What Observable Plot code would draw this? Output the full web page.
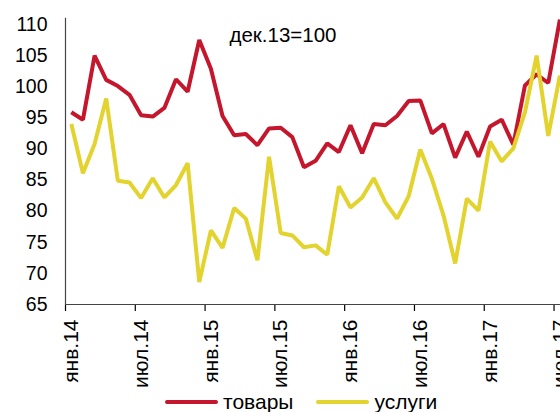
<!DOCTYPE html>
<html><head><meta charset="utf-8">
<script src="https://cdn.jsdelivr.net/npm/d3@7"></script>
<script src="https://cdn.jsdelivr.net/npm/@observablehq/plot@0.6"></script>
<style>
html,body{margin:0;padding:0;background:#fff;overflow:hidden;width:560px;height:412px}
#wrap{position:relative;width:560px;height:412px;overflow:hidden;font-family:"Liberation Sans",Arial,sans-serif}
#chart svg{max-width:none !important;width:580px;height:392px}
#legend{position:absolute;left:165px;top:391px;display:flex;align-items:center;font-size:21px;line-height:22px;color:#000;white-space:nowrap}
.item{display:flex;align-items:center;margin-right:23px}
.sw{display:inline-block;width:53px;height:4px;border-radius:2px;margin-right:5px}
</style></head><body>
<div id="wrap"><div id="chart"></div><div id="legend"></div></div>
<script>
// Monthly index, Jan 2014 .. Jul 2017 (43 months)
const goods = [95.9, 94.7, 105.0, 101.1, 100.1, 98.7, 95.4, 95.2, 96.6, 101.2, 99.2, 107.5,
  102.9, 95.3, 92.2, 92.4, 90.6, 93.3, 93.4, 91.9, 87.05, 88.1, 90.9, 89.5,
  93.8, 89.3, 94.0, 93.8, 95.3, 97.7, 97.8, 92.5, 94.0, 88.6, 92.8, 88.75,
  93.6, 94.7, 90.7, 100.2, 102.0, 100.6, 110.8];
const services = [94.0, 86.1, 90.8, 98.1, 84.9, 84.6, 82.1, 85.3, 82.2, 84.2, 87.7, 68.6,
  76.9, 74.1, 80.5, 78.8, 72.1, 88.75, 76.5, 76.1, 74.2, 74.5, 73.0, 84.0,
  80.6, 82.2, 85.3, 81.4, 78.8, 82.4, 89.9, 85.2, 79.3, 71.6, 82.0, 80.1,
  91.2, 88.0, 90.1, 95.9, 105.0, 92.1, 101.8];
const tickMonths = [0, 6, 12, 18, 24, 30, 36, 42];
const tickLabels = ["янв.14", "июл.14", "янв.15", "июл.15", "янв.16", "июл.16", "янв.17", "июл.17"];
const yTicks = [65, 70, 75, 80, 85, 90, 95, 100, 105, 110];
const seriesNames = ["товары", "услуги"];
const seriesColors = ["#c4162d", "#e2d32f"];
const note = "дек.13=100";

const rows = [];
goods.forEach((v, i) => rows.push({m: i + 0.5, v, s: seriesNames[0]}));
services.forEach((v, i) => rows.push({m: i + 0.5, v, s: seriesNames[1]}));
const labelMap = new Map(tickMonths.map((m, i) => [m + 0.5, tickLabels[i]]));

const chart = Plot.plot({
  width: 580, height: 392,
  marginLeft: 65, marginRight: 9, marginTop: 24, marginBottom: 88,
  style: {fontFamily: '"Liberation Sans", Arial, sans-serif', fontSize: "19px", color: "#000", background: "#fff", maxWidth: "none"},
  x: {domain: [0, 43.5]},
  y: {domain: [65, 110]},
  color: {domain: seriesNames, range: seriesColors},
  marks: [
    Plot.axisY({ticks: yTicks, tickSize: 0, tickPadding: 18, label: null, fontSize: 19.5}),
    Plot.axisX({ticks: tickMonths, tickSize: 7, tickFormat: () => "", label: null, strokeWidth: 1.2}),
    Plot.axisX({ticks: tickMonths.map(m => m + 0.5), tickSize: 0, tickPadding: 15, tickRotate: -90,
      tickFormat: d => labelMap.get(d), label: null, fontSize: 21}),
    Plot.ruleX([0], {y1: 65, y2: 111, stroke: "#444", strokeWidth: 1.2}),
    Plot.ruleY([65], {stroke: "#444", strokeWidth: 1.2}),
    Plot.line(rows, {x: "m", y: "v", z: "s", stroke: "s", strokeWidth: 4, strokeLinejoin: "miter", strokeLinecap: "butt"}),
    Plot.text([note], {frameAnchor: "top-left", dx: 164, dy: 11, textAnchor: "start", lineAnchor: "middle", fontSize: 20.5, fill: "#000"})
  ]
});
document.getElementById("chart").appendChild(chart);

const legend = document.getElementById("legend");
seriesNames.forEach((n, i) => {
  const it = document.createElement("span");
  it.className = "item";
  const sw = document.createElement("span");
  sw.className = "sw";
  sw.style.background = seriesColors[i];
  it.appendChild(sw);
  it.appendChild(document.createTextNode(n));
  legend.appendChild(it);
});
</script>
</body></html>
